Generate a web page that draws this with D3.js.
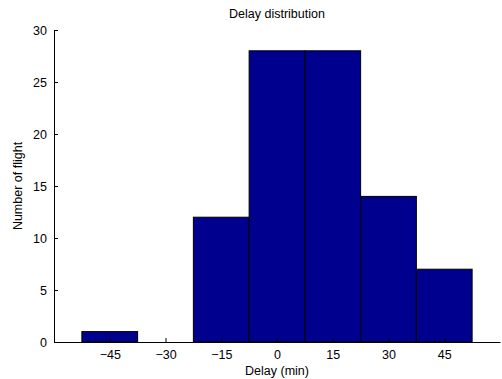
<!DOCTYPE html>
<html><head><meta charset="utf-8">
<script src="https://cdn.jsdelivr.net/npm/d3@7"></script>
<style>body{margin:0;background:#fff}svg{display:block;font-family:"Liberation Sans",Arial,sans-serif}</style>
</head><body><svg id="c" width="502" height="379"></svg>
<script>
const binCenters = [-45, -30, -15, 0, 15, 30, 45];
const counts = [1, 0, 12, 28, 28, 14, 7];
const binWidth = 15;
const xTicks = [-45, -30, -15, 0, 15, 30, 45];
const yTicks = [0, 5, 10, 15, 20, 25, 30];
const FS = 12.5;

const svg = d3.select("#c");
const x = d3.scaleLinear().domain([-60, 60]).range([54, 500]);
const y = d3.scaleLinear().domain([0, 30]).range([342, 30]);

svg.append("g").selectAll("rect").data(binCenters.map((c,i)=>({c, v: counts[i]})).filter(d=>d.v>0))
  .join("rect")
  .attr("x", d => x(d.c - binWidth/2))
  .attr("y", d => y(d.v))
  .attr("width", d => x(d.c + binWidth/2) - x(d.c - binWidth/2))
  .attr("height", d => y(0) - y(d.v))
  .attr("fill", "#00008f").attr("stroke", "#000").attr("stroke-width", 1);

const xa = svg.append("g").attr("transform", `translate(0,${y(0)})`)
  .call(d3.axisBottom(x).tickValues(xTicks).tickSizeInner(-4).tickSizeOuter(0).tickPadding(8).tickFormat(d => d < 0 ? "\u2212" + Math.abs(d) : d));
const ya = svg.append("g").attr("transform", `translate(${x(-60)},0)`)
  .call(d3.axisLeft(y).tickValues(yTicks).tickSizeInner(-4).tickSizeOuter(0).tickPadding(7));
[xa, ya].forEach(a => {
  a.select(".domain").attr("stroke", "#000");
  a.selectAll(".tick line").attr("stroke", "#000");
  a.selectAll("text").attr("font-size", FS).attr("fill", "#000").attr("font-family", "Liberation Sans, Arial, sans-serif");
});
svg.selectAll("rect").raise();
xa.select(".domain").raise();

svg.append("text").attr("x", 277).attr("y", 18).attr("text-anchor", "middle")
  .attr("font-size", FS).text("Delay distribution");
svg.append("text").attr("x", 277).attr("y", 375).attr("text-anchor", "middle")
  .attr("font-size", FS).text("Delay (min)");
svg.append("text").attr("transform", `translate(22,186) rotate(-90)`).attr("text-anchor", "middle")
  .attr("font-size", FS).text("Number of flight");
</script></body></html>
